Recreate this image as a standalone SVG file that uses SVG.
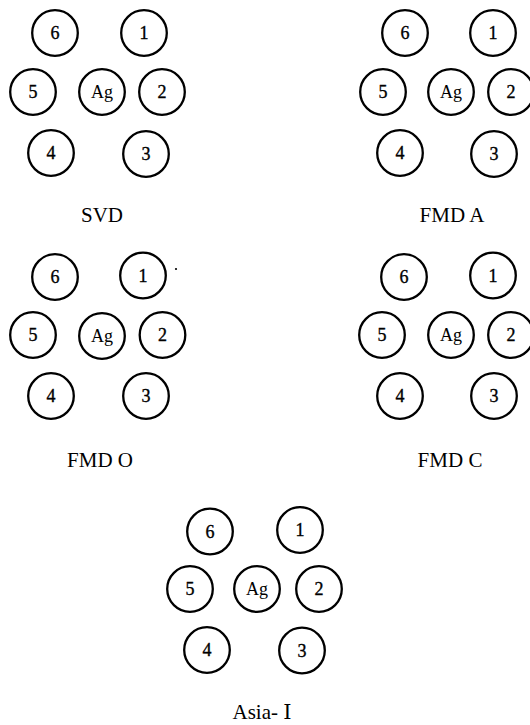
<svg xmlns="http://www.w3.org/2000/svg" width="530" height="725" viewBox="0 0 530 725">
<style>
.w{fill:#fff;stroke:#000;stroke-width:2.3}
.n{font-family:"Liberation Serif","Times New Roman",serif;font-size:18px;text-anchor:middle;fill:#000;stroke:#000;stroke-width:0.35}
.a{font-family:"Liberation Serif","Times New Roman",serif;font-size:18px;text-anchor:middle;fill:#000}
.l{font-family:"Liberation Serif","DejaVu Serif","Noto Sans CJK SC",serif;font-size:21px;text-anchor:middle;fill:#000}
</style>
<rect width="530" height="725" fill="#fff"/>
<g id="connectors"></g>
<g id="svd">
<circle class="w" cx="55" cy="33" r="22.8"/><text class="n" x="55" y="39">6</text>
<circle class="w" cx="144" cy="33" r="22.8"/><text class="n" x="144" y="39">1</text>
<circle class="w" cx="33" cy="92" r="22.8"/><text class="n" x="33" y="98">5</text>
<circle class="w" cx="102" cy="92" r="22.8"/><text class="a" x="102" y="98">Ag</text>
<circle class="w" cx="162" cy="92" r="22.8"/><text class="n" x="162" y="98">2</text>
<circle class="w" cx="51" cy="153" r="22.8"/><text class="n" x="51" y="159">4</text>
<circle class="w" cx="146" cy="154" r="22.8"/><text class="n" x="146" y="160">3</text>
<text class="l" x="102" y="222">SVD</text>
</g>
<g id="fmda">
<circle class="w" cx="405" cy="33" r="22.8"/><text class="n" x="405" y="39">6</text>
<circle class="w" cx="493" cy="33" r="22.8"/><text class="n" x="493" y="39">1</text>
<circle class="w" cx="383" cy="92" r="22.8"/><text class="n" x="383" y="98">5</text>
<circle class="w" cx="451" cy="92" r="22.8"/><text class="a" x="451" y="98">Ag</text>
<circle class="w" cx="511" cy="92" r="22.8"/><text class="n" x="511" y="98">2</text>
<circle class="w" cx="400" cy="153" r="22.8"/><text class="n" x="400" y="159">4</text>
<circle class="w" cx="494" cy="154" r="22.8"/><text class="n" x="494" y="160">3</text>
<text class="l" x="452" y="222">FMD A</text>
</g>
<g id="fmdo">
<circle class="w" cx="55" cy="277" r="22.8"/><text class="n" x="55" y="283">6</text>
<circle class="w" cx="143" cy="275.5" r="22.8"/><text class="n" x="143" y="281.5">1</text>
<circle cx="176" cy="269" r="1.1" fill="#000"/>
<circle class="w" cx="33" cy="335" r="22.8"/><text class="n" x="33" y="341">5</text>
<circle class="w" cx="102" cy="336" r="22.8"/><text class="a" x="102" y="342">Ag</text>
<circle class="w" cx="162.5" cy="335" r="22.8"/><text class="n" x="162.5" y="341">2</text>
<circle class="w" cx="51" cy="396" r="22.8"/><text class="n" x="51" y="402">4</text>
<circle class="w" cx="146" cy="396" r="22.8"/><text class="n" x="146" y="402">3</text>
<text class="l" x="100" y="467">FMD O</text>
</g>
<g id="fmdc">
<circle class="w" cx="404" cy="277" r="22.8"/><text class="n" x="404" y="283">6</text>
<circle class="w" cx="493" cy="275.5" r="22.8"/><text class="n" x="493" y="281.5">1</text>
<circle class="w" cx="382" cy="335" r="22.8"/><text class="n" x="382" y="341">5</text>
<circle class="w" cx="451" cy="335" r="22.8"/><text class="a" x="451" y="341">Ag</text>
<circle class="w" cx="511" cy="335" r="22.8"/><text class="n" x="511" y="341">2</text>
<circle class="w" cx="400" cy="396" r="22.8"/><text class="n" x="400" y="402">4</text>
<circle class="w" cx="494" cy="396" r="22.8"/><text class="n" x="494" y="402">3</text>
<text class="l" x="450" y="467">FMD C</text>
</g>
<g id="asia">
<circle class="w" cx="210" cy="531.5" r="22.8"/><text class="n" x="210" y="537.5">6</text>
<circle class="w" cx="300" cy="530" r="22.8"/><text class="n" x="300" y="536">1</text>
<circle class="w" cx="190" cy="589" r="22.8"/><text class="n" x="190" y="595">5</text>
<circle class="w" cx="257" cy="589" r="22.8"/><text class="a" x="257" y="595">Ag</text>
<circle class="w" cx="319" cy="589" r="22.8"/><text class="n" x="319" y="595">2</text>
<circle class="w" cx="207" cy="650" r="22.8"/><text class="n" x="207" y="656">4</text>
<circle class="w" cx="302" cy="650.5" r="22.8"/><text class="n" x="302" y="656.5">3</text>
<text class="l" x="262" y="719">Asia- Ⅰ</text>
</g>
</svg>
